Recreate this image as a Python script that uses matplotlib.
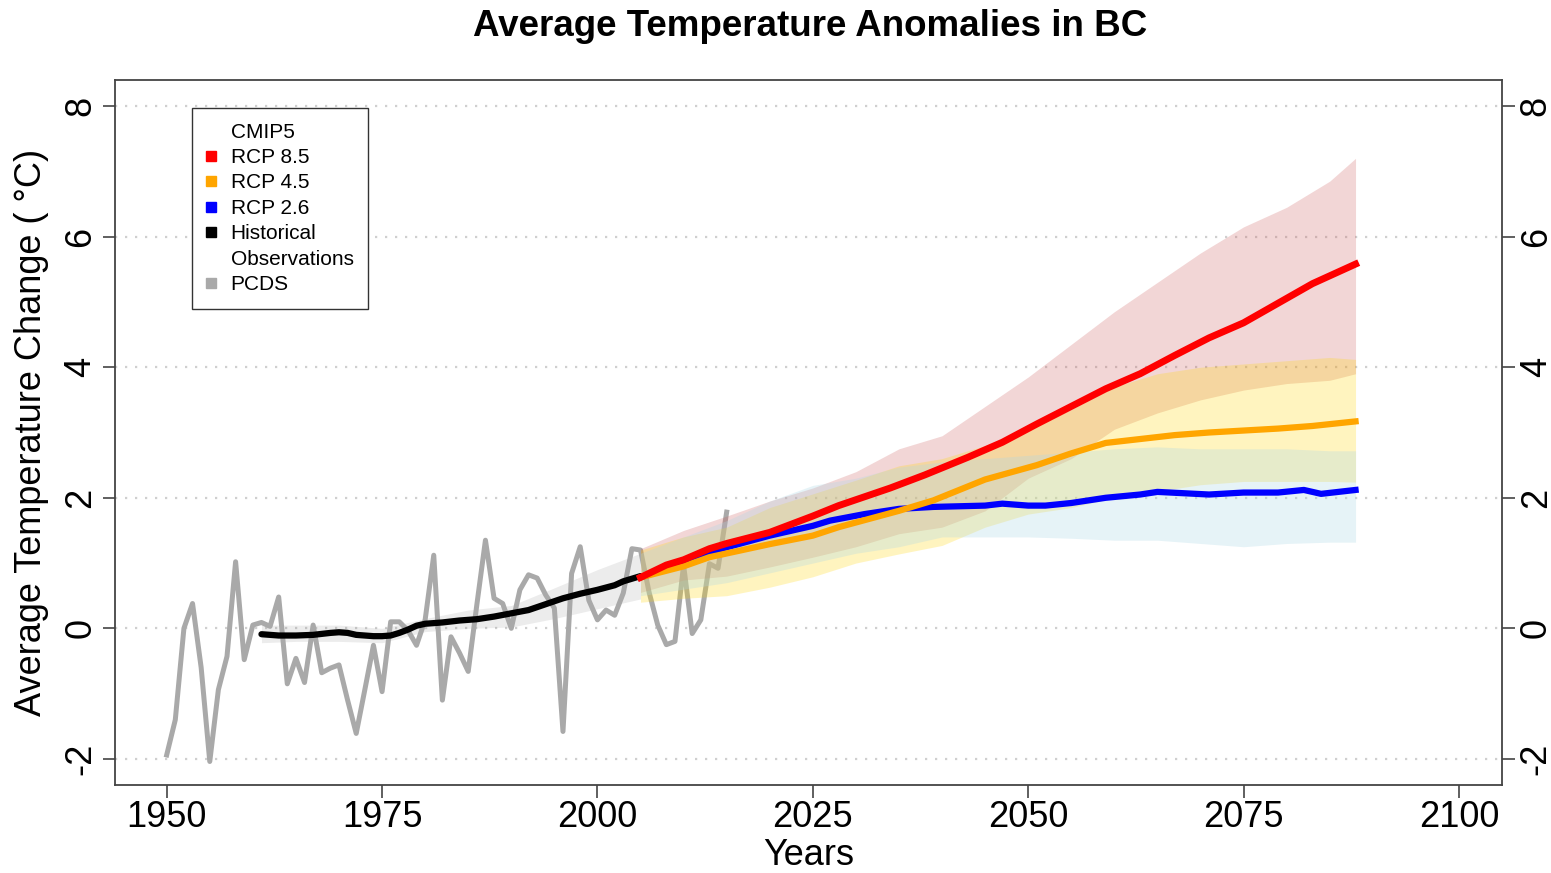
import numpy as np
import matplotlib.pyplot as plt
from matplotlib.lines import Line2D

plt.rcParams['font.family'] = ['Liberation Sans', 'DejaVu Sans']
plt.rcParams['axes.unicode_minus'] = False

# PCDS observations (annual anomalies)
obs_years = list(range(1950, 2016))
obs_vals = [-1.94, -1.40, 0.0, 0.38, -0.6, -2.04, -0.94, -0.43, 1.02, -0.48,
            0.05, 0.09, 0.03, 0.48, -0.85, -0.46, -0.83, 0.05, -0.68, -0.61,
            -0.56, -1.10, -1.61, -0.94, -0.26, -0.97, 0.1, 0.1, -0.03, -0.26,
            0.13, 1.12, -1.10, -0.13, -0.38, -0.66, 0.36, 1.35, 0.46, 0.38,
            0.0, 0.59, 0.82, 0.77, 0.51, 0.31, -1.58, 0.84, 1.25, 0.43,
            0.13, 0.28, 0.2, 0.54, 1.22, 1.2, 0.55, 0.05, -0.25, -0.2,
            0.97, -0.08, 0.13, 0.99, 0.92, 1.78]

# CMIP5 historical ensemble mean and spread
hist_years = [1961, 1963, 1965, 1967, 1969, 1970, 1971, 1972, 1974, 1975, 1976, 1977,
              1978, 1979, 1980, 1982, 1984, 1986, 1988, 1990, 1992, 1994, 1996, 1998,
              2000, 2002, 2003, 2004, 2005]
hist_mean = [-0.09, -0.11, -0.11, -0.1, -0.07, -0.06, -0.07, -0.1, -0.12, -0.12, -0.11, -0.07,
             -0.02, 0.04, 0.07, 0.09, 0.12, 0.14, 0.18, 0.23, 0.28, 0.37, 0.46, 0.53,
             0.59, 0.66, 0.72, 0.76, 0.8]
hist_band_years = [1961, 1965, 1970, 1975, 1980, 1985, 1990, 1995, 2000, 2005]
hist_hi = [0.05, 0.05, 0.05, 0.0, 0.15, 0.28, 0.35, 0.62, 0.9, 1.15]
hist_lo = [-0.22, -0.2, -0.2, -0.22, -0.05, 0.0, 0.02, 0.15, 0.3, 0.45]

# projection spreads
band_years = [2005, 2010, 2015, 2020, 2025, 2030, 2035, 2040, 2045, 2050,
              2055, 2060, 2065, 2070, 2075, 2080, 2085, 2088]
rcp85_hi = [1.22, 1.5, 1.72, 1.95, 2.15, 2.4, 2.75, 2.95, 3.4, 3.85,
            4.35, 4.85, 5.3, 5.75, 6.15, 6.45, 6.85, 7.2]
rcp85_lo = [0.55, 0.74, 0.8, 0.94, 1.09, 1.25, 1.45, 1.55, 1.8, 2.3,
            2.6, 3.05, 3.3, 3.5, 3.65, 3.75, 3.8, 3.9]
rcp45_hi = [1.2, 1.4, 1.55, 1.85, 2.06, 2.27, 2.49, 2.6, 2.8, 3.05,
            3.35, 3.7, 3.9, 4.0, 4.05, 4.1, 4.15, 4.12]
rcp45_lo = [0.4, 0.46, 0.5, 0.63, 0.79, 1.0, 1.14, 1.27, 1.55, 1.75,
            1.85, 2.0, 2.1, 2.2, 2.25, 2.25, 2.25, 2.24]
rcp26_hi = [1.15, 1.4, 1.65, 1.95, 2.19, 2.3, 2.47, 2.55, 2.6, 2.65,
            2.7, 2.75, 2.78, 2.75, 2.75, 2.75, 2.72, 2.72]
rcp26_lo = [0.5, 0.6, 0.7, 0.85, 1.0, 1.15, 1.25, 1.4, 1.4, 1.4,
            1.38, 1.35, 1.35, 1.3, 1.25, 1.3, 1.32, 1.32]

# projection ensemble means
rcp85_years = [2005, 2008, 2010, 2013, 2015, 2020, 2025, 2028, 2030, 2034, 2038, 2043,
               2047, 2051, 2055, 2059, 2063, 2067, 2071, 2075, 2079, 2083, 2088]
rcp85_mean = [0.78, 0.97, 1.05, 1.22, 1.3, 1.47, 1.72, 1.88, 1.97, 2.15, 2.35, 2.62,
              2.85, 3.13, 3.4, 3.67, 3.9, 4.18, 4.45, 4.68, 4.98, 5.28, 5.58]
rcp45_years = [2005, 2010, 2013, 2020, 2025, 2028, 2035, 2039, 2045, 2051, 2055,
               2059, 2063, 2067, 2071, 2075, 2079, 2083, 2088]
rcp45_mean = [0.78, 0.95, 1.09, 1.29, 1.42, 1.55, 1.8, 1.96, 2.28, 2.5, 2.68,
              2.84, 2.9, 2.96, 3.0, 3.03, 3.06, 3.1, 3.17]
rcp26_years = [2005, 2010, 2013, 2020, 2025, 2027, 2031, 2035, 2039, 2045, 2047, 2050,
               2052, 2055, 2059, 2063, 2065, 2068, 2071, 2075, 2079, 2082, 2084, 2088]
rcp26_mean = [0.78, 1.0, 1.17, 1.42, 1.57, 1.65, 1.75, 1.83, 1.86, 1.88, 1.91, 1.88,
              1.88, 1.92, 2.0, 2.05, 2.09, 2.07, 2.05, 2.08, 2.08, 2.12, 2.06, 2.12]

x_ticks = [1950, 1975, 2000, 2025, 2050, 2075, 2100]
y_ticks = [-2, 0, 2, 4, 6, 8]

fig = plt.figure(figsize=(15.51, 8.73), dpi=100)
ax = fig.add_axes([115 / 1551, 1 - 785 / 873, (1502 - 115) / 1551, (785 - 80) / 873])

# dotted horizontal grid
for yv in y_ticks:
    ax.axhline(yv, color='#cfcfcf', lw=1.6, ls=(0, (1, 3.5)), zorder=0)

ax.fill_between(hist_band_years, hist_lo, hist_hi, color='gray', alpha=0.15, lw=0, zorder=1)
ax.plot(obs_years, obs_vals, color='#a9a9a9', lw=3.6, zorder=2, solid_joinstyle='round')
ax.plot(hist_years, hist_mean, color='black', lw=4.5, zorder=3, solid_capstyle='round')

ax.fill_between(band_years, rcp85_lo, rcp85_hi, color='#cd5c5c', alpha=0.25, lw=0, zorder=4)
ax.fill_between(band_years, rcp45_lo, rcp45_hi, color='#ffd700', alpha=0.25, lw=0, zorder=4)
ax.fill_between(band_years, rcp26_lo, rcp26_hi, color='#add8e6', alpha=0.3, lw=0, zorder=4)

ax.plot(rcp26_years, rcp26_mean, color='#0000ff', lw=4.5, zorder=5)
ax.plot(rcp45_years, rcp45_mean, color='#ffa500', lw=4.5, zorder=6)
ax.plot(rcp85_years, rcp85_mean, color='#ff0000', lw=5, zorder=7)

ax.set_xlim(1944, 2105)
ax.set_ylim(-2.4, 8.4)
ax.set_xticks(x_ticks)
ax.set_yticks(y_ticks)
ax.tick_params(axis='both', labelsize=26, length=9, width=1.2, color='#444444', direction='out')
ax.tick_params(axis='x', pad=2)
ax.tick_params(axis='y', right=True, labelright=True, pad=3)
for t in ax.yaxis.get_major_ticks():
    t.label1.set_rotation(90)
    t.label2.set_rotation(90)
    t.label1.set_va('center')
    t.label2.set_va('center')
for sp in ax.spines.values():
    sp.set_color('#444444')
    sp.set_linewidth(1.3)

ax.set_xlabel('Years', fontsize=26, labelpad=2)
ax.set_ylabel('Average Temperature Change ( °C)', fontsize=26, labelpad=10)
fig.text(810 / 1551, 1 - 27 / 873, 'Average Temperature Anomalies in BC',
         fontsize=26.5, fontweight='bold', ha='center', va='center')

legend_items = [('CMIP5', None), ('RCP 8.5', '#ff0000'), ('RCP 4.5', '#ffa500'),
                ('RCP 2.6', '#0000ff'), ('Historical', 'black'),
                ('Observations', None), ('PCDS', '#a9a9a9')]
handles = []
for name, col in legend_items:
    if col is None:
        handles.append(Line2D([], [], linestyle='none', label=name))
    else:
        handles.append(Line2D([], [], linestyle='none', marker='s', markersize=6.5,
                              markerfacecolor=col, markeredgecolor=col, label=name))
leg = ax.legend(handles=handles, loc='upper left', bbox_to_anchor=(192 / 1551, 1 - 108 / 873),
                bbox_transform=fig.transFigure, borderaxespad=0, fontsize=15,
                frameon=True, fancybox=False, framealpha=1, edgecolor='#333333',
                borderpad=0.7, handlelength=0.4, handletextpad=0.75, labelspacing=0.31)
leg.get_frame().set_linewidth(1.0)

fig.savefig('out.png', dpi=100)
